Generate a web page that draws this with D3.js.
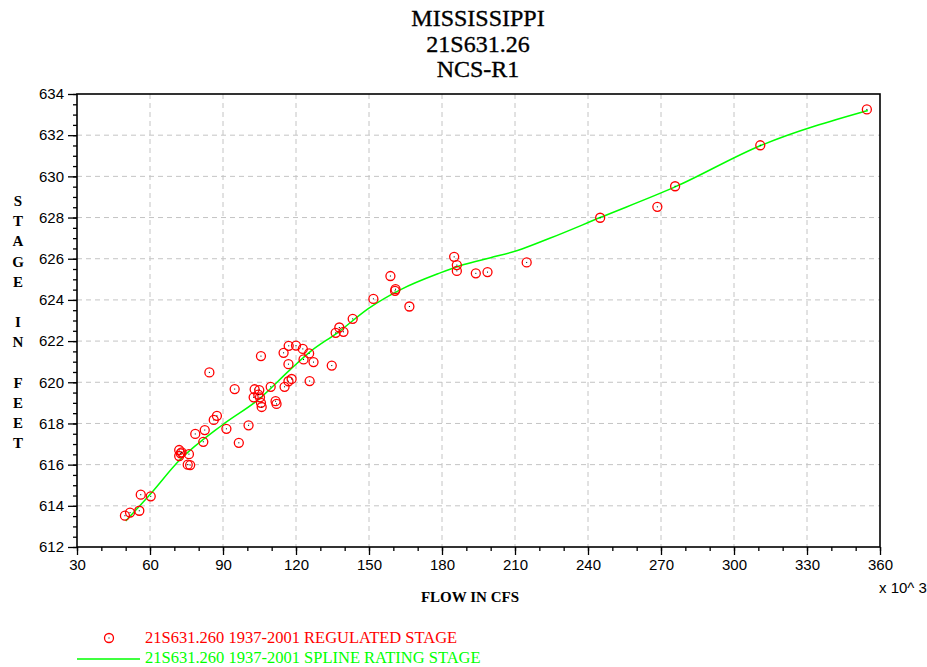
<!DOCTYPE html>
<html>
<head>
<meta charset="utf-8">
<script src="https://cdn.jsdelivr.net/npm/d3@7"></script>
<style>
  body { margin: 0; background: #fff; }
  svg { display: block; }
  .tick-label { font-family: "Liberation Sans", Arial, sans-serif; font-size: 15px; fill: #000; }
  .serif { font-family: "Liberation Serif", "Times New Roman", serif; }
</style>
</head>
<body>
<svg id="chart" width="927" height="667"></svg>
<script>
// observed stage (flow in 1000 cfs, stage in feet)
const obsFlow = [49.7, 51.8, 55.6, 56.2, 60.3, 72.0, 72.0, 72.6, 73.0, 76.0, 75.5, 76.5,
  78.6, 82.5, 81.9, 86.2, 87.5, 91.4, 84.4, 94.8, 96.5, 100.5, 103.0, 102.6, 104.9, 105.2,
  105.6, 105.9, 104.5, 105.6, 109.6, 111.6, 112.0, 115.3, 116.9, 118.2, 116.9, 114.9, 117.0,
  120.0, 122.8, 125.4, 123.1, 127.2, 125.6, 134.7, 137.8, 136.3, 139.5, 143.3, 151.8, 158.8,
  160.7, 160.9, 166.6, 185.0, 186.1, 186.1, 193.9, 198.7, 214.8, 245.0, 268.5, 275.8, 310.8, 354.6];
const obsStage = [613.52, 613.67, 613.76, 614.54, 614.46, 616.71, 616.42, 616.55, 616.6, 616.51, 616.0, 615.98,
  617.49, 617.68, 617.11, 618.17, 618.37, 617.74, 620.48, 619.67, 617.06, 617.91, 619.66, 619.27, 619.62, 619.27,
  619.0, 618.8, 619.4, 621.27, 619.78, 619.08, 618.95, 619.78, 620.05, 620.16, 620.88, 621.43, 621.77,
  621.78, 621.62, 621.4, 621.11, 620.98, 620.06, 620.81, 622.66, 622.4, 622.45, 623.08, 624.05, 625.16,
  624.44, 624.52, 623.68, 626.09, 625.69, 625.41, 625.29, 625.35, 625.82, 627.99, 628.52, 629.52, 631.51, 633.25];

// spline rating curve
const splineFlow = [50, 60, 72, 90, 105, 117.5, 126, 137, 150, 163, 179, 189, 200, 211, 224, 245, 276, 311, 355];
const splineStage = [613.26, 614.55, 616.2, 617.95, 619.2, 620.6, 621.5, 622.4, 623.6, 624.5, 625.3, 625.72,
  626.05, 626.4, 626.98, 628.0, 629.5, 631.5, 633.2];

const titleLines = ['MISSISSIPPI', '21S631.26', 'NCS-R1'];
const yLabel = ['S', 'T', 'A', 'G', 'E', '', 'I', 'N', '', 'F', 'E', 'E', 'T'];
const legendLabels = ['21S631.260 1937-2001 REGULATED STAGE', '21S631.260 1937-2001 SPLINE RATING STAGE'];

const svg = d3.select('#chart');
const plotL = 77, plotR = 880, plotT = 94, plotB = 547;

const x = d3.scaleLinear().domain([30, 360]).range([plotL, plotR]);
const y = d3.scaleLinear().domain([612, 634]).range([plotB, plotT]);

const xMajor = d3.range(30, 361, 30);
const xMinor = d3.range(30, 361, 10);
const yMajor = d3.range(612, 634.1, 2);
const yMinor = d3.range(612, 634.01, 0.5);

// grid
svg.append('g').selectAll('line')
  .data(xMajor.slice(1, -1))
  .join('line')
  .attr('x1', d => x(d)).attr('x2', d => x(d))
  .attr('y1', plotT).attr('y2', plotB)
  .attr('stroke', '#c4c4c4').attr('stroke-dasharray', '5,4');
svg.append('g').selectAll('line')
  .data(yMajor.slice(1, -1))
  .join('line')
  .attr('x1', plotL).attr('x2', plotR)
  .attr('y1', d => y(d)).attr('y2', d => y(d))
  .attr('stroke', '#c4c4c4').attr('stroke-dasharray', '5,4');

// axes
const xAxis = d3.axisBottom(x).tickValues(xMajor).tickSize(8).tickPadding(4).tickFormat(d3.format('d'));
const xAxisMinor = d3.axisBottom(x).tickValues(xMinor).tickSize(4).tickFormat('');
const yAxis = d3.axisLeft(y).tickValues(yMajor).tickSize(9).tickPadding(4).tickFormat(d3.format('d'));
const yAxisMinor = d3.axisLeft(y).tickValues(yMinor).tickSize(4).tickFormat('');

svg.append('g').attr('transform', `translate(0,${plotB})`).call(xAxisMinor);
const gx = svg.append('g').attr('transform', `translate(0,${plotB})`).call(xAxis);
svg.append('g').attr('transform', `translate(${plotL},0)`).call(yAxisMinor);
const gy = svg.append('g').attr('transform', `translate(${plotL},0)`).call(yAxis);

svg.selectAll('.domain').remove();
svg.selectAll('.tick line').attr('stroke', '#000').attr('stroke-width', 1.3);
gx.selectAll('text').attr('class', 'tick-label');
gy.selectAll('text').attr('class', 'tick-label');
gx.attr('font-size', null).attr('font-family', null);
gy.attr('font-size', null).attr('font-family', null);

// frame
svg.append('rect')
  .attr('x', plotL).attr('y', plotT)
  .attr('width', plotR - plotL).attr('height', plotB - plotT)
  .attr('fill', 'none').attr('stroke', '#000').attr('stroke-width', 1.6);

// spline line
const line = d3.line()
  .x((d, i) => x(splineFlow[i]))
  .y(d => y(d))
  .curve(d3.curveMonotoneX);
svg.append('path')
  .datum(splineStage)
  .attr('d', line)
  .attr('fill', 'none')
  .attr('stroke', '#00ff00')
  .attr('stroke-width', 1.5);

// observed points
const pts = svg.append('g').selectAll('g')
  .data(obsFlow.map((f, i) => [f, obsStage[i]]))
  .join('g')
  .attr('transform', d => `translate(${x(d[0])},${y(d[1])})`);
pts.append('circle')
  .attr('r', 4.5)
  .attr('fill', 'none')
  .attr('stroke', '#ff0000')
  .attr('stroke-width', 1.3);
pts.append('rect')
  .attr('x', -0.5).attr('y', -0.5).attr('width', 1).attr('height', 1)
  .attr('fill', '#000');

// title
svg.append('g').selectAll('text')
  .data(titleLines)
  .join('text')
  .attr('class', 'serif')
  .attr('x', 478)
  .attr('y', (d, i) => 26 + i * 25.5)
  .attr('text-anchor', 'middle')
  .attr('font-size', 24)
  .attr('stroke', '#000')
  .attr('stroke-width', 0.35)
  .text(d => d);

// y label, stacked letters
svg.append('g').selectAll('text')
  .data(yLabel)
  .join('text')
  .attr('class', 'serif')
  .attr('x', 18)
  .attr('y', (d, i) => 206 + i * 20.2)
  .attr('text-anchor', 'middle')
  .attr('font-size', 15)
  .attr('font-weight', 'bold')
  .text(d => d);

// x label
svg.append('text')
  .attr('class', 'serif')
  .attr('x', 470)
  .attr('y', 602)
  .attr('text-anchor', 'middle')
  .attr('font-size', 15)
  .attr('font-weight', 'bold')
  .text('FLOW IN CFS');

svg.append('text')
  .attr('class', 'tick-label')
  .attr('x', 879)
  .attr('y', 593)
  .text('x 10^ 3');

// legend
const lg = svg.append('g');
lg.append('circle')
  .attr('cx', 109).attr('cy', 638).attr('r', 4.5)
  .attr('fill', 'none').attr('stroke', '#ff0000').attr('stroke-width', 1.3);
lg.append('rect')
  .attr('x', 108.5).attr('y', 637.5).attr('width', 1).attr('height', 1).attr('fill', '#000');
lg.append('line')
  .attr('x1', 77).attr('x2', 140).attr('y1', 659).attr('y2', 659)
  .attr('stroke', '#00ff00').attr('stroke-width', 1.5);
lg.selectAll('text')
  .data(legendLabels)
  .join('text')
  .attr('class', 'serif')
  .attr('x', 145)
  .attr('y', (d, i) => 643 + i * 20)
  .attr('font-size', 16.5)
  .attr('fill', (d, i) => i === 0 ? '#ff0000' : '#00ff00')
  .text(d => d);
</script>
</body>
</html>
